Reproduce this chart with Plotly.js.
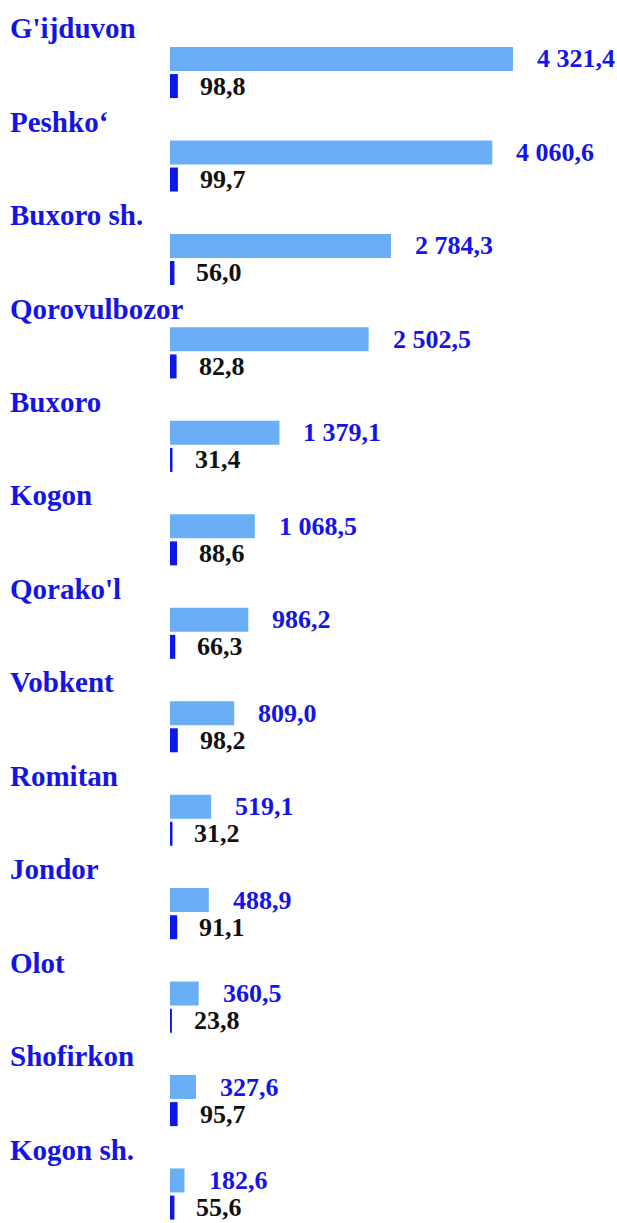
<!DOCTYPE html>
<html>
<head>
<meta charset="utf-8">
<script src="https://cdn.plot.ly/plotly-3.0.1.min.js"></script>
<style>html,body{margin:0;padding:0;background:#fff;}#chart{width:617px;height:1223px;}</style>
</head>
<body>
<div id="chart"></div>
<script>
const districts = ["G'ijduvon", "Peshko‘", "Buxoro sh.", "Qorovulbozor", "Buxoro", "Kogon", "Qorako'l", "Vobkent", "Romitan", "Jondor", "Olot", "Shofirkon", "Kogon sh."];
const values = [4321.4, 4060.6, 2784.3, 2502.5, 1379.1, 1068.5, 986.2, 809.0, 519.1, 488.9, 360.5, 327.6, 182.6];
const percents = [98.8, 99.7, 56.0, 82.8, 31.4, 88.6, 66.3, 98.2, 31.2, 91.1, 23.8, 95.7, 55.6];

function fmt(v) {
  const parts = v.toFixed(1).split('.');
  const intPart = parts[0].replace(/\B(?=(\d{3})+(?!\d))/g, ' ');
  return intPart + ',' + parts[1];
}

const idx = districts.map((d, i) => i);
const pctPos = idx.map(i => i + 0.29);
const namePos = idx.map(i => i - 0.33);

const FONT = "'Liberation Serif', 'Times New Roman', serif";
const BLUE_TEXT = '#1414e6';

const traces = [
  {
    type: 'bar', orientation: 'h', x: values, y: idx, width: 0.257,
    marker: {color: '#6aaff5', line: {width: 0}}, hoverinfo: 'skip'
  },
  {
    type: 'bar', orientation: 'h', x: percents, y: pctPos, width: 0.257,
    marker: {color: '#0b18e6', line: {width: 0}}, hoverinfo: 'skip'
  }
];

const annotations = [];
districts.forEach((d, i) => {
  annotations.push({
    xref: 'paper', x: 0.0162, xanchor: 'left', xshift: -2, yref: 'y', y: namePos[i], yanchor: 'middle',
    text: '<b>' + d + '</b>', showarrow: false,
    font: {family: FONT, size: 29, color: BLUE_TEXT}
  });
  annotations.push({
    xref: 'x', x: values[i], xanchor: 'left', xshift: 22, yref: 'y', y: idx[i], yanchor: 'middle',
    text: '<b>' + fmt(values[i]) + '</b>', showarrow: false,
    font: {family: FONT, size: 26, color: BLUE_TEXT}
  });
  annotations.push({
    xref: 'x', x: percents[i], xanchor: 'left', xshift: 20, yref: 'y', y: pctPos[i], yanchor: 'middle',
    text: '<b>' + fmt(percents[i]) + '</b>', showarrow: false,
    font: {family: FONT, size: 26, color: '#111111'}
  });
});

const layout = {
  width: 617, height: 1223,
  margin: {l: 0, r: 0, t: 0, b: 0},
  paper_bgcolor: '#ffffff', plot_bgcolor: '#ffffff',
  showlegend: false, barmode: 'overlay',
  xaxis: {range: [-2142, 5632], visible: false, fixedrange: true},
  yaxis: {range: [12.455, -0.631], visible: false, fixedrange: true},
  annotations: annotations
};

Plotly.newPlot('chart', traces, layout, {displayModeBar: false, staticPlot: true});
</script>
</body>
</html>
